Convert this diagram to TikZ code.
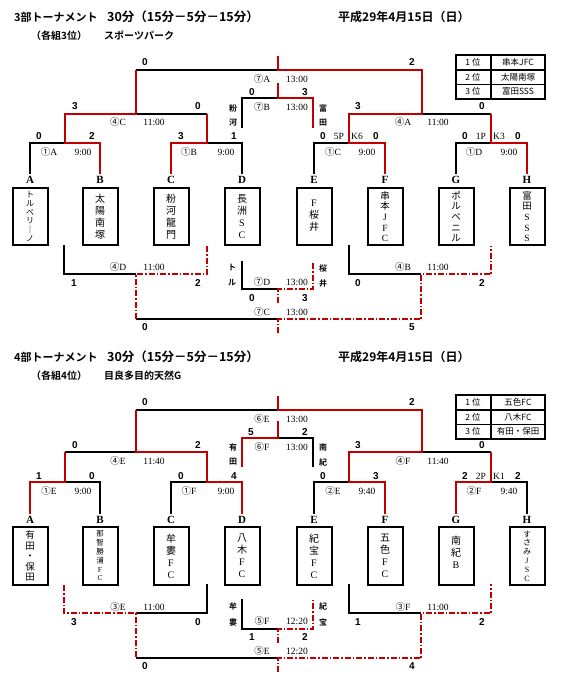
\documentclass[tikz,border=0pt]{standalone}
\usepackage{fontspec}
\setmainfont{Liberation Serif}
\newfontfamily\cjk{Noto Sans CJK JP}[BoldFont={Noto Sans CJK JP Bold}]
\newfontfamily\numf{Liberation Sans}
\newcommand{\cn}[1]{{\cjk #1}}
\newcommand{\lt}[1]{{\rmfamily #1}}
\definecolor{wr}{RGB}{192,0,0}
\tikzset{
  blk/.style={line width=1.3pt, black, line join=miter},
  win/.style={line width=2.6pt, wr, line join=miter},
  dd/.style={line width=1.6pt, wr, dash pattern=on 6pt off 2pt on 1.5pt off 2pt},
  sc/.style={font=\numf\bfseries\fontsize{10}{10}\selectfont, inner sep=0pt},
  lb/.style={font=\fontsize{9.5}{9.5}\selectfont, inner sep=0pt},
  nm/.style={font=\cjk\bfseries\fontsize{8}{8}\selectfont, inner sep=0pt},
  tb/.style={font=\cjk\fontsize{8.5}{8.5}\selectfont, inner sep=0pt},
  teambox/.style={draw, line width=2pt, minimum width=35pt, minimum height=57pt, inner sep=0pt},
  letter/.style={font=\bfseries\fontsize{11}{11}\selectfont, inner sep=0pt},
  vt/.style={font=\cjk\fontsize{10}{12}\selectfont, align=center, inner sep=0pt},
  vtf/.style={font=\cjk\fontsize{9.5}{10.6}\selectfont, align=center, inner sep=0pt},
  vts/.style={font=\cjk\fontsize{8}{8.8}\selectfont, align=center, inner sep=0pt},
  hd/.style={font=\cjk\bfseries\fontsize{12.5}{12.5}\selectfont, inner sep=0pt, anchor=west},
  hd2/.style={font=\cjk\bfseries\fontsize{10}{10}\selectfont, inner sep=0pt, anchor=west},
}
\begin{document}
\begin{tikzpicture}[x=1pt,y=-1pt]
\useasboundingbox (0,0) rectangle (564,682);
\fill[white] (0,0) rectangle (564,682);

% ---------- headers ----------
\node[hd, font=\cjk\bfseries\fontsize{11}{11}\selectfont] (h1a) at (14,17) {3部トーナメント};
\node[hd] (h1b) at (107,17) {30分（15分－5分－15分）};
\node[hd, font=\cjk\bfseries\fontsize{12}{12}\selectfont] (h1c) at (338,17) {平成29年4月15日（日）};
\node[hd2] (h1d) at (31,36) {（各組3位）};
\node[hd2] (h1e) at (104,36) {スポーツパーク};
\node[hd, font=\cjk\bfseries\fontsize{11}{11}\selectfont] (h2a) at (14,357) {4部トーナメント};
\node[hd] (h2b) at (107,357) {30分（15分－5分－15分）};
\node[hd, font=\cjk\bfseries\fontsize{12}{12}\selectfont] (h2c) at (338,357) {平成29年4月15日（日）};
\node[hd2] (h2d) at (31,376) {（各組4位）};
\node[hd2] (h2e) at (104,376) {目良多目的天然G};

% ---------- ranking tables ----------
\foreach \t/\a/\b/\c [count=\i] in {55/串本JFC/太陽南塚/富田SSS, 395/五色FC/八木FC/有田・保田}{
  \draw[line width=1.3pt] (456,\t) rectangle (545,\t+44);
  \draw[line width=1.3pt] (491,\t) -- (491,\t+44);
  \draw[line width=1.3pt] (456,\t+15) -- (545,\t+15);
  \draw[line width=1.3pt] (456,\t+29.5) -- (545,\t+29.5);
  \node[tb] (r\i a) at (473,\t+7.5) {1 位};
  \node[tb] (r\i b) at (473,\t+22) {2 位};
  \node[tb] (r\i c) at (473,\t+36.5) {3 位};
  \node[tb] (r\i d) at (518,\t+7.5) {\a};
  \node[tb] (r\i e) at (518,\t+22) {\b};
  \node[tb] (r\i f) at (518,\t+36.5) {\c};
}

% ---------- team letters and boxes ----------
\foreach \x/\l in {30/A,100/B,171/C,242/D,314/E,385/F,456/G,527/H}{
  \node[letter] (la\l) at (\x,180) {\l};
  \node[teambox] (ba\l) at (\x,216.5) {};
  \node[letter] (lb\l) at (\x,520) {\l};
  \node[teambox, minimum height=58pt] (bb\l) at (\x,556) {};
}
% section 1 team names
\node[vts] (ta1) at (30,216.5) {ト\\ル\\ベ\\リ\\｜\\ノ};
\node[vt] (ta2) at (100,217) {太\\陽\\南\\塚};
\node[vt] (ta3) at (171,217) {粉\\河\\龍\\門};
\node[vt] (ta4) at (242,217) {長\\洲\\\lt{S}\\\lt{C}};
\node[vt] (ta5) at (314,216) {\lt{F}\\桜\\井};
\node[vtf] (ta6) at (385,216.5) {串\\本\\\lt{J}\\\lt{F}\\\lt{C}};
\node[vtf] (ta7) at (456,216.5) {ポ\\ル\\ベ\\ニ\\ル};
\node[vtf] (ta8) at (527,216.5) {富\\田\\\lt{S}\\\lt{S}\\\lt{S}};
% section 2 team names
\node[vtf] (tb1) at (30,556) {有\\田\\・\\保\\田};
\node[vts, font=\cjk\fontsize{7.5}{8.8}\selectfont] (tb2) at (100,556) {那\\智\\勝\\浦\\\lt{F}\\\lt{C}};
\node[vt] (tb3) at (171,556) {牟\\婁\\\lt{F}\\\lt{C}};
\node[vt] (tb4) at (242,556) {八\\木\\\lt{F}\\\lt{C}};
\node[vt] (tb5) at (314,556) {紀\\宝\\\lt{F}\\\lt{C}};
\node[vt] (tb6) at (385,556) {五\\色\\\lt{F}\\\lt{C}};
\node[vt] (tb7) at (456,552) {南\\紀\\\lt{B}};
\node[vts] (tb8) at (527,556) {す\\さ\\み\\\lt{J}\\\lt{S}\\\lt{C}};

% ================= SECTION 1 lines =================
\draw[blk] (136,70)--(278,70);
\draw[blk] (30,174)--(30,143)--(65,143);
\draw[blk] (207,114)--(136,114);
\draw[blk] (207,143)--(242,143)--(242,174);
\draw[blk] (242,128)--(242,98)--(278,98);
\draw[blk] (422,114)--(491,114);
\draw[blk] (314,174)--(314,143)--(349,143);
\draw[blk] (456,174)--(456,143)--(491,143);
\draw[win] (385,174)--(385,143)--(349,143)--(349,114)--(422,114)--(422,70)--(278,70)--(278,56);
\draw[win] (100,174)--(100,143)--(65,143)--(65,114)--(136,114)--(136,70);
\draw[win] (171,174)--(171,143)--(207,143)--(207,114);
\draw[win] (527,174)--(527,143)--(491,143)--(491,114);
\draw[win] (278,83)--(278,98)--(313,98)--(313,128);
% consolation
\draw[blk] (64,245)--(64,274)--(136,274);
\draw[blk] (136,319)--(278,319);
\draw[blk] (242,261)--(242,289)--(278,289);
\draw[blk] (349,245)--(349,274)--(421,274);
\draw[dd] (207,246)--(207,274)--(136,274)--(136,319);
\draw[dd] (278,333)--(278,319)--(421,319)--(421,274)--(491,274)--(491,246);
\draw[dd] (278,303)--(278,289)--(313,289)--(313,262);

% ================= SECTION 2 lines =================
\draw[blk] (136,410)--(278,410);
\draw[blk] (278,438)--(313,438)--(313,467);
\draw[blk] (65,452)--(136,452);
\draw[blk] (65,482)--(100,482)--(100,514);
\draw[blk] (171,514)--(171,482)--(207,482);
\draw[blk] (422,452)--(491,452);
\draw[blk] (314,514)--(314,482)--(349,482);
\draw[blk] (491,482)--(527,482)--(527,514);
\draw[win] (385,514)--(385,482)--(349,482)--(349,452)--(422,452)--(422,410)--(278,410)--(278,396);
\draw[win] (242,514)--(242,482)--(207,482)--(207,452)--(136,452)--(136,410);
\draw[win] (30,514)--(30,482)--(65,482)--(65,452);
\draw[win] (456,514)--(456,482)--(491,482)--(491,452);
\draw[win] (242,467)--(242,438)--(278,438)--(278,421);
% consolation
\draw[blk] (136,613)--(207,613)--(207,584);
\draw[blk] (136,658)--(278,658);
\draw[blk] (242,599)--(242,629)--(278,629);
\draw[blk] (349,584)--(349,613)--(421,613);
\draw[dd] (64,585)--(64,613)--(136,613)--(136,658);
\draw[dd] (278,672)--(278,658)--(421,658)--(421,613)--(491,613)--(491,584);
\draw[dd] (278,643)--(278,629)--(313,629)--(313,599);

% ---------- scores (bold) ----------
\foreach \x/\y/\t [count=\i] in {
 145/62/0, 412/62/2, 252/92/0, 305/92/3, 75/106/3, 198/106/0, 358/106/3, 482/106/0,
 39/136/0, 92/136/2, 181/136/3, 234/136/1, 323/136/0, 376/136/0, 465/136/0, 518/136/0,
 74/283/1, 198/283/2, 358/283/0, 482/283/2, 252/298/0, 305/298/3, 145/327/0, 412/327/5,
 145/402/0, 412/402/2, 251/432/5, 305/432/2, 75/445/0, 198/445/2, 358/445/3, 482/445/0,
 39/476/1, 92/476/0, 181/476/0, 234/476/4, 323/476/0, 376/476/3, 465/476/2, 518/476/2,
 74/622/3, 198/622/0, 358/622/1, 482/622/2, 252/637/1, 305/637/2, 145/666/0, 412/666/4}
 {\node[sc] (s\i) at (\x,\y) {\t};}

% ---------- PK notes ----------
\foreach \x/\y/\t [count=\i] in {339/136/5P, 357/136/K6, 481/136/1P, 499/136/K3, 481/476/2P, 499/476/K1}
 {\node[lb] (p\i) at (\x,\y) {\t};}

% ---------- match labels and times ----------
\foreach \x/\y/\m [count=\i] in {
 262/79/\cn{⑦}A, 262/107/\cn{⑦}B, 118/122/\cn{④}C, 403/122/\cn{④}A,
 49/152/\cn{①}A, 189/152/\cn{①}B, 333/152/\cn{①}C, 474/152/\cn{①}D,
 118/267/\cn{④}D, 403/267/\cn{④}B, 262/282/\cn{⑦}D, 262/312/\cn{⑦}C,
 262/419/\cn{⑥}E, 262/447/\cn{⑥}F, 118/461/\cn{④}E, 403/461/\cn{④}F,
 49/491/\cn{①}E, 189/491/\cn{①}F, 333/491/\cn{②}E, 474/491/\cn{②}F,
 118/607/\cn{③}E, 403/607/\cn{③}F, 262/621/\cn{⑤}F, 262/651/\cn{⑤}E}
 {\node[lb] (m\i) at (\x,\y) {\m};}
\foreach \x/\y/\t [count=\i] in {
 297/79/13:00, 297/107/13:00, 154/122/11:00, 438/122/11:00,
 83/152/9:00, 226/152/9:00, 367/152/9:00, 509/152/9:00,
 154/267/11:00, 438/267/11:00, 297/282/13:00, 297/312/13:00,
 297/419/13:00, 297/447/13:00, 154/461/11:40, 438/461/11:40,
 83/491/9:00, 226/491/9:00, 367/491/9:40, 509/491/9:40,
 154/607/11:00, 438/607/11:00, 297/621/12:20, 297/651/12:20}
 {\node[lb] (t\i) at (\x,\y) {\t};}

% ---------- side names ----------
\foreach \x/\y/\t [count=\i] in {
 233/108/粉, 233/123/河, 323/108/富, 323/123/田,
 232/268/ト, 232/283/ル, 323/268/桜, 323/283/井,
 233/447/有, 233/462/田, 323/447/南, 323/462/紀,
 233/606/牟, 233/622/婁, 323/606/紀, 323/622/宝}
 {\node[nm] (n\i) at (\x,\y) {\t};}
\end{tikzpicture}
\end{document}
